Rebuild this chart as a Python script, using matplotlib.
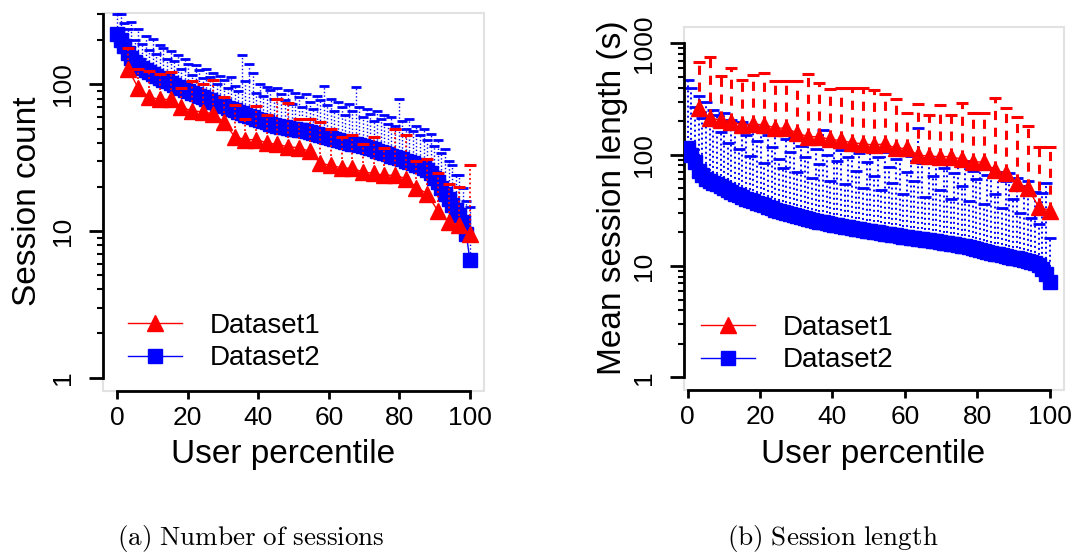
import numpy as np
import matplotlib
matplotlib.use('Agg')
import matplotlib.pyplot as plt
from matplotlib.patches import Rectangle
from matplotlib.ticker import FixedLocator, NullFormatter

plt.rcParams['font.family'] = ['Liberation Sans', 'DejaVu Sans']
plt.rcParams['mathtext.fontset'] = 'cm'

# ---- data ----
# Dataset1: 33 users, Dataset2: 100 users (percentile positions)
n_red = 33
n_blue = 100

# (a) number of sessions
count_d1 = [128, 94, 82, 79, 79, 70, 66, 65, 63, 55, 44, 42, 42, 40, 39, 37.5, 37,
            35, 29, 28, 27, 26.7, 25.3, 24.7, 24, 24, 22.8, 19.8, 18, 13.7, 11.5, 11, 9.5]
count_d1_hi = [176, 128, 124, 118, 121, 94, 105, 100, 107, 82, 72, 58, 71, 62, 79, 75, 58.5,
               58, 55, 50, 44, 45, 39, 44, 37, 50, 45, 30, 31, 24.7, 20.9, 20, 28]
count_d2 = [222, 200, 182, 165, 152, 143, 136, 130, 125, 121,
            118, 115, 111, 108, 105, 102, 99, 96, 94, 92,
            90, 88, 86, 84, 82, 80, 78, 76, 74, 72,
            71, 69, 68, 66.5, 65, 63.5, 62, 61, 59.5, 58,
            57, 56, 55, 54, 53, 52, 51.5, 51, 50.5, 50,
            49.5, 49, 48.5, 48, 47, 46.5, 46, 45, 44.5, 44,
            43, 42.5, 42, 41, 40.5, 40, 39.5, 39, 38.5, 38,
            37.5, 36.8, 36, 35.3, 34.6, 34, 33.3, 32.7, 32, 31.4,
            30.8, 30.2, 29.6, 29, 28.3, 27.6, 26.8, 26, 25, 23,
            21.5, 19.5, 18, 16.5, 15, 14, 12.8, 11.5, 9.5, 6.3]
count_d2_hi = [300, 300, 262, 238, 265, 200, 237, 190, 214, 172,
               203, 160, 186, 178, 150, 168, 145, 158, 128, 150,
               138, 116, 135, 125, 110, 128, 112, 120, 100, 115,
               108, 95, 112, 98, 90, 158, 105, 138, 119, 88,
               100, 84, 96, 92, 80, 95, 86, 78, 92, 74,
               88, 82, 70, 86, 76, 68, 84, 78, 98, 72,
               80, 66, 76, 70, 62, 74, 66, 96, 70, 60,
               68, 63, 56, 66, 58, 62, 54, 60, 52, 79,
               56, 50, 58, 48, 52, 45, 50, 42, 46, 38,
               42, 34, 36, 30, 28, 24, 24, 19.6, 16, 14.6]

# (b) mean session length (s)
length_d1 = [261, 212, 205, 198, 185, 188, 185, 173, 173, 156, 145, 145, 137, 134, 128, 125, 122,
             125, 114, 114, 99, 97, 96, 96, 91, 86.5, 85.5, 73, 68, 56, 50.6, 34, 31.4]
length_d1_hi = [685, 760, 509, 597, 470, 523, 545, 459, 459, 459, 527, 444, 387, 400, 400, 400, 381,
                349, 315, 235, 285, 227, 280, 227, 290, 235, 235, 321, 261, 220, 181, 118, 118]
length_d2 = [114, 100, 85, 72, 66, 61, 58, 56, 54, 52,
             50, 48, 46, 44.5, 43, 41.5, 40, 39, 38, 37,
             36, 35, 34, 33, 32, 31, 30.4, 29.8, 29.2, 28.6,
             28, 27.5, 27, 26.5, 26, 25.5, 25, 24.6, 24.2, 23.8,
             23.5, 23.2, 22.9, 22.6, 22.3, 22, 21.7, 21.4, 21.1, 20.8,
             20.5, 20.3, 20.0, 19.8, 19.5, 19.3, 19.1, 18.9, 18.7, 18.4,
             18.2, 18.0, 17.8, 17.6, 17.4, 17.2, 17.0, 16.8, 16.6, 16.4,
             16.2, 16.0, 15.8, 15.6, 15.4, 15.2, 15.0, 14.7, 14.4, 14.1,
             13.9, 13.6, 13.4, 13.1, 12.9, 12.7, 12.5, 12.3, 12.1, 11.9,
             11.7, 11.5, 11.3, 11.1, 10.9, 10.6, 10.2, 9.4, 8.5, 7.2]
length_d2_hi = [470, 395, 268, 336, 214, 300, 190, 250, 227, 160,
                235, 128, 205, 175, 112, 195, 150, 98, 185, 132,
                170, 84, 150, 118, 160, 92, 76, 138, 105, 145,
                70, 120, 96, 132, 62, 112, 82, 167, 100, 58,
                122, 88, 110, 54, 95, 120, 72, 104, 50, 86,
                114, 64, 96, 48, 106, 78, 56, 92, 100, 44,
                70, 98, 58, 173, 84, 42, 94, 64, 88, 48,
                76, 90, 40, 68, 84, 52, 88, 38, 72, 60,
                80, 36, 66, 76, 44, 70, 33, 58, 68, 40,
                62, 30, 52, 58, 27, 46, 24, 45, 56, 18]

x_d1 = 100 * np.arange(1, n_red + 1) / n_red
x_d2 = np.linspace(0, 100, n_blue)


def panel(ax, d1, d1_hi, d2, d2_hi, red_ls, red_lw, blue_lw, blue_cap):
    # Dataset2 upper error bars (dotted) and caps
    ax.vlines(x_d2, d2, d2_hi, colors='blue', linestyles=[(0, (1, 1.6))], lw=blue_lw, zorder=2)
    ax.plot(x_d2, d2_hi, ls='none', marker='_', color='blue', ms=blue_cap, mew=2, zorder=2)
    h2, = ax.plot(x_d2, d2, '-s', color='blue', ms=10, lw=1, zorder=3, label='Dataset2')
    # Dataset1 upper error bars and caps
    ax.vlines(x_d1, d1, d1_hi, colors='red', linestyles=[red_ls], lw=red_lw, zorder=4)
    ax.plot(x_d1, d1_hi, ls='none', marker='_', color='red', ms=8, mew=2.2, zorder=4)
    h1, = ax.plot(x_d1, d1, '-^', color='red', ms=11, lw=1, zorder=5, label='Dataset1')
    ax.set_yscale('log')
    for s in ['top', 'right']:
        ax.spines[s].set_visible(False)
    for s in ['left', 'bottom']:
        ax.spines[s].set_linewidth(2)
    ax.add_patch(Rectangle((0, 0), 1, 1, transform=ax.transAxes, fill=False,
                           ec='#e2e2e2', lw=1.5, zorder=0, clip_on=False))
    ax.set_xticks([0, 20, 40, 60, 80, 100])
    ax.spines['bottom'].set_bounds(0, 100)
    ax.tick_params(axis='x', length=6, width=2, labelsize=19, pad=5)
    ax.tick_params(axis='y', which='major', length=10, width=2, labelsize=19,
                   labelrotation=90, pad=10)
    ax.tick_params(axis='y', which='minor', length=4, width=1.5)
    return h1, h2


fig = plt.figure(figsize=(10.8, 5.56), dpi=100)
ax1 = fig.add_axes([103 / 1080, 1 - 391 / 556, 381 / 1080, 378 / 556])
ax2 = fig.add_axes([684 / 1080, 1 - 390 / 556, 380 / 1080, 363 / 556])

h1, h2 = panel(ax1, count_d1, count_d1_hi, count_d2, count_d2_hi,
               (0, (1, 1.5)), 1.3, 1.0, 7)
ax1.set_xlim(-4, 104)
ax1.set_ylim(0.81, 307)
ax1.yaxis.set_major_locator(FixedLocator([1, 10, 100]))
ax1.yaxis.set_minor_locator(FixedLocator([2, 3, 4, 5, 6, 7, 8, 9,
                                          20, 30, 40, 50, 60, 70, 80, 90, 200, 300]))
ax1.yaxis.set_minor_formatter(NullFormatter())
ax1.set_yticklabels(['1', '10', '100'])
ax1.spines['left'].set_bounds(1, 300)

g1, g2 = panel(ax2, length_d1, length_d1_hi, length_d2, length_d2_hi,
               (0, (3, 2.5)), 2.2, 1.4, 9)
ax2.set_xlim(-1, 104)
ax2.set_ylim(0.77, 1400)
ax2.yaxis.set_major_locator(FixedLocator([1, 10, 100, 1000]))
ax2.yaxis.set_minor_locator(FixedLocator([m * d for d in [1, 10, 100] for m in range(2, 10)]))
ax2.yaxis.set_minor_formatter(NullFormatter())
ax2.set_yticklabels(['1', '10', '100', '1000'])
ax2.spines['left'].set_bounds(1, 1000)

for ax in (ax1, ax2):
    for lbl in ax.get_yticklabels():
        lbl.set_va('center')

fig.legend([h1, h2], ['Dataset1', 'Dataset2'], loc='center left',
           bbox_to_anchor=(128 / 1080, 1 - 342 / 556), frameon=False, fontsize=20,
           handlelength=1.95, handletextpad=1.0, labelspacing=0.25, borderpad=0,
           borderaxespad=0, markerscale=1.05)
fig.legend([g1, g2], ['Dataset1', 'Dataset2'], loc='center left',
           bbox_to_anchor=(701 / 1080, 1 - 344 / 556), frameon=False, fontsize=20,
           handlelength=1.95, handletextpad=1.0, labelspacing=0.25, borderpad=0,
           borderaxespad=0, markerscale=1.05)

fig.text(283 / 1080, 1 - 455 / 556, 'User percentile', fontsize=24, ha='center', va='center')
fig.text(873 / 1080, 1 - 455 / 556, 'User percentile', fontsize=24, ha='center', va='center')
fig.text(28 / 1080, 1 - 201 / 556, 'Session count', fontsize=24, rotation=90,
         ha='center', va='center')
fig.text(612 / 1080, 1 - 198 / 556, 'Mean session length (s)', fontsize=24, rotation=90,
         ha='center', va='center')
fig.text(251 / 1080, 1 - 538 / 556, r'$\mathrm{(a)\ Number\ of\ sessions}$', fontsize=19.5,
         ha='center', va='center')
fig.text(833 / 1080, 1 - 538 / 556, r'$\mathrm{(b)\ Session\ length}$', fontsize=19.5,
         ha='center', va='center')

fig.savefig('out.png', dpi=100)
